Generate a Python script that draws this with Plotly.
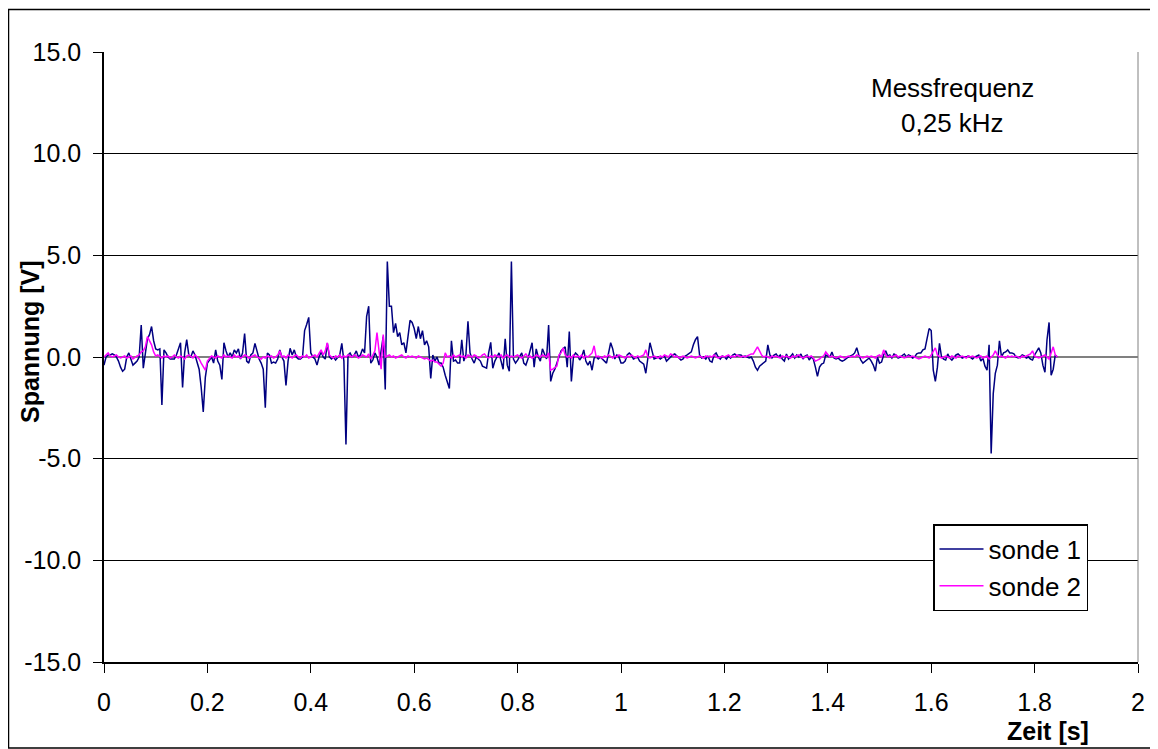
import plotly.graph_objects as go

SAMPLE_STEP = 0.004  # 0,25 kHz

sonde1 = [
    -0.4, 0.0, 0.1, 0.1, 0.15, 0.1, 0.0, -0.2, -0.5, -0.7,
    -0.6, 0.0, 0.2, -0.1, -0.4, -0.3, -0.2, 0.0, 1.57, -0.55,
    0.3, 0.9, 1.1, 1.5, 0.8, 0.4, 0.35, 0.4, -2.36, 0.35,
    0.2, 0.0, -0.1, -0.1, -0.1, 0.1, 0.4, 0.7, -1.5, 0.2,
    0.85, 0.1, 0.0, 0.3, 0.1, -0.2, -0.6, -1.5, -2.7, -1.0,
    -0.3, -0.15, 0.0, -0.3, 0.35, -0.2, -0.4, -1.1, 0.7, 0.3,
    0.0, 0.2, 0.0, 0.35, 0.2, 0.4, -0.1, 0.2, 1.15, -0.2,
    -0.3, 0.1, 0.2, 0.67, 0.3, -0.1, -0.3, -0.6, -2.5, 0.2,
    0.1, -0.3, -0.25, -0.3, -0.1, 0.35, 0.0, -0.2, -1.4, -0.2,
    0.43, 0.1, 0.35, 0.0, -0.1, -0.1, 0.0, 1.3, 1.6, 1.95,
    0.2, 0.0, -0.1, -0.4, 0.0, 0.25, 0.0, -0.1, 0.67, 0.0,
    -0.1, 0.0, -0.15, 0.0, 0.1, 0.67, -0.2, -4.3, 0.1, 0.2,
    0.0, 0.1, 0.3, 0.0, 0.1, 0.4, 0.2, 2.0, 2.5, -0.3,
    -0.15, 0.2, 0.0, -0.4, 0.2, 1.0, -1.6, 4.7, 2.5, 2.5,
    1.2, 1.65, 1.0, 1.2, 0.6, 0.7, 0.2, 1.1, 1.8, 1.7,
    1.4, 0.9, 1.5, 0.9, 1.3, 0.6, 0.8, 0.5, -1.05, 0.1,
    -0.2, 0.0, -0.3, -0.3, -0.5, -0.9, -1.2, -1.55, 0.8, -0.2,
    -0.15, -0.3, -0.3, 0.85, -0.2, 0.1, 1.75, 0.2, -0.1, -0.3,
    0.0, -0.1, -0.2, -0.45, -0.5, -0.55, 0.2, 0.72, -0.55, -0.2,
    0.0, 0.2, -0.2, -0.6, 0.9, -0.4, -0.7, 4.7, -0.1, -0.3,
    -0.15, 0.0, 0.2, -0.3, -0.4, -0.1, 0.3, 0.7, -0.5, 0.4,
    0.0, -0.2, 0.4, 0.1, -0.1, 1.57, -1.2, -0.8, -0.6, -0.3,
    0.0, 0.3, 0.4, 0.5, -0.5, 1.25, -1.2, 0.0, 0.2, 0.1,
    -0.15, 0.0, 0.35, -0.2, -0.4, -0.2, -0.65, -0.05, 0.0, -0.1,
    0.0, -0.1, -0.15, -0.3, 0.2, 0.7, 0.4, -0.1, 0.1, 0.0,
    -0.3, -0.3, -0.2, 0.1, 0.2, 0.1, -0.1, -0.05, 0.0, -0.2,
    -0.3, -0.35, -0.8, 0.1, 0.7, 0.3, -0.1, -0.05, 0.0, -0.1,
    0.0, 0.05, -0.2, -0.1, 0.0, 0.1, 0.15, 0.05, -0.1, -0.15,
    -0.1, 0.05, 0.1, 0.2, 0.25, 0.6, 0.85, 1.0, 0.1, -0.05,
    0.0, -0.1, 0.05, -0.2, -0.25, 0.1, 0.2, 0.0, -0.1, 0.05,
    0.0, -0.1, 0.05, -0.05, 0.1, 0.15, 0.05, 0.1, 0.1, 0.0,
    0.05, 0.0, -0.05, 0.0, -0.2, -0.5, -0.65, -0.45, -0.35, -0.25,
    -0.2, 0.6, 0.1, -0.05, 0.1, 0.15, 0.0, 0.1, -0.1, -0.2,
    0.15, -0.1, 0.0, 0.15, -0.05, 0.1, 0.0, 0.15, -0.1, 0.05,
    0.1, -0.15, 0.0, -0.1, -0.5, -0.95, -0.5, -0.35, -0.3, 0.1,
    0.05, 0.0, 0.25, -0.05, -0.1, -0.05, -0.15, -0.2, -0.15, -0.05,
    0.0, 0.05, 0.1, 0.2, 0.46, 0.1, -0.15, -0.3, -0.2, -0.1,
    -0.05, -0.2, -0.4, -0.7, 0.0, -0.3, -0.25, 0.1, 0.3, 0.05,
    0.1, -0.05, 0.15, 0.1, -0.05, 0.0, 0.1, 0.15, 0.0, 0.1,
    0.05, -0.05, 0.0, 0.15, 0.2, 0.2, 0.35, 0.4, 0.9, 1.4,
    1.3, -0.65, -1.2, -0.5, 0.67, 0.0, -0.1, -0.15, 0.15, -0.05,
    -0.15, 0.0, 0.1, 0.15, 0.05, -0.05, 0.0, 0.0, 0.05, -0.05,
    -0.1, 0.0, 0.05, 0.1, -0.2, -0.05, -0.45, -0.65, 0.6, -4.74,
    -1.8, -0.8, -0.4, 0.8, 0.0, 0.2, 0.25, 0.35, 0.2, 0.2,
    0.15, 0.0, -0.05, 0.0, 0.1, 0.05, -0.05, 0.0, -0.1, -0.15,
    0.1, 0.25, 0.45, 0.2, -0.4, -0.75, 0.85, 1.7, -0.9, -0.6,
    0.1, 0.0,
]

sonde2 = [
    0.0, 0.1, 0.2, 0.05, 0.0, 0.05, 0.1, 0.0, -0.05, 0.0,
    0.05, -0.05, 0.0, 0.05, -0.1, 0.0, 0.05, 0.1, 0.25, 0.3,
    0.5, 1.0, 0.8, 0.6, 0.25, 0.05, 0.1, 0.0, -0.05, 0.05,
    0.0, 0.05, -0.05, 0.0, 0.1, 0.0, -0.05, 0.05, 0.0, -0.1,
    0.05, 0.1, 0.0, -0.05, 0.1, 0.0, -0.1, -0.3, -0.45, -0.65,
    -0.2, -0.1, 0.05, 0.0, -0.05, 0.05, 0.0, -0.05, 0.1, 0.0,
    0.05, 0.0, -0.05, 0.1, 0.0, 0.05, -0.05, 0.0, 0.1, 0.05,
    -0.05, 0.0, 0.05, 0.1, 0.0, -0.05, -0.1, 0.0, -0.05, 0.05,
    0.0, 0.05, -0.05, 0.0, 0.1, 0.3, 0.0, 0.05, -0.05, 0.1,
    0.0, -0.05, 0.05, 0.1, 0.0, -0.05, 0.05, 0.0, 0.1, -0.05,
    0.0, 0.05, 0.1, 0.0, 0.2, 0.35, 0.1, 0.3, 0.7, 0.1,
    0.0, -0.05, 0.05, 0.0, 0.1, -0.05, 0.05, 0.0, 0.1, 0.05,
    0.0, 0.1, 0.05, -0.05, 0.0, 0.1, 0.05, 0.0, 0.15, -0.1,
    0.1, 0.3, 1.2, 0.2, -0.6, 1.1, 0.0, 0.05, 0.1, 0.0,
    0.05, -0.05, 0.0, 0.05, 0.1, 0.0, -0.05, 0.05, 0.0, 0.05,
    0.0, -0.05, 0.05, 0.0, -0.05, -0.1, -0.05, -0.15, -0.2, -0.15,
    -0.25, -0.25, -0.35, -0.45, -0.3, 0.2, 0.0, 0.05, -0.05, 0.1,
    0.0, 0.05, 0.1, 0.0, 0.05, -0.05, 0.1, 0.05, 0.0, 0.1,
    0.05, -0.05, 0.0, 0.1, 0.15, 0.0, -0.05, 0.05, 0.0, 0.1,
    0.05, 0.0, 0.1, -0.05, 0.05, 0.1, 0.0, 0.05, 0.0, 0.05,
    0.1, 0.0, -0.05, 0.05, 0.15, 0.0, 0.05, -0.05, 0.0, 0.1,
    0.05, 0.0, 0.1, 0.05, 0.0, 0.2, -0.65, -0.6, -0.5, -0.45,
    0.1, 0.2, 0.45, 0.1, 0.0, 0.05, -0.05, 0.1, 0.0, 0.05,
    0.0, 0.1, -0.05, 0.05, 0.0, 0.1, 0.2, 0.55, 0.0, 0.05,
    0.0, -0.05, 0.05, 0.0, 0.1, 0.0, -0.05, 0.05, 0.0, 0.1,
    0.05, 0.0, -0.05, 0.05, 0.0, 0.1, 0.0, -0.05, 0.05, 0.0,
    0.05, 0.1, 0.35, 0.0, -0.05, 0.0, 0.05, 0.0, -0.05, 0.05,
    0.0, 0.1, 0.05, 0.0, 0.15, 0.1, 0.0, 0.05, -0.05, 0.0,
    0.05, 0.0, -0.05, 0.0, 0.05, 0.0, -0.05, 0.0, 0.05, 0.0,
    -0.05, 0.05, 0.0, 0.05, 0.0, 0.1, 0.0, -0.05, 0.0, 0.05,
    0.0, 0.05, 0.1, 0.0, 0.05, 0.0, 0.1, 0.05, 0.0, 0.05,
    0.0, 0.05, 0.1, 0.15, 0.15, 0.35, 0.5, 0.3, 0.1, 0.0,
    0.05, 0.0, -0.05, 0.05, 0.0, 0.05, 0.0, -0.05, 0.05, 0.0,
    0.05, 0.0, -0.05, 0.05, 0.0, 0.05, 0.1, 0.0, -0.05, 0.0,
    0.05, 0.0, 0.05, -0.05, -0.2, -0.15, -0.1, 0.0, 0.05, 0.25,
    0.1, 0.0, 0.05, 0.0, -0.05, 0.0, 0.05, 0.0, -0.05, 0.0,
    0.05, 0.0, 0.05, 0.0, 0.1, 0.05, 0.0, -0.05, 0.0, 0.05,
    0.0, 0.05, 0.0, -0.05, 0.05, 0.1, 0.0, 0.35, 0.1, 0.0,
    0.05, 0.0, 0.05, 0.1, 0.0, 0.05, 0.0, -0.05, 0.0, 0.05,
    0.0, 0.05, 0.0, -0.05, -0.1, -0.05, 0.0, 0.05, 0.0, -0.05,
    0.1, 0.3, 0.45, 0.1, 0.0, -0.05, 0.0, 0.05, 0.0, -0.05,
    0.05, 0.0, -0.05, 0.05, 0.0, 0.05, 0.0, -0.05, 0.05, 0.0,
    0.05, 0.0, -0.05, 0.0, 0.05, -0.05, 0.0, 0.05, -0.1, 0.0,
    0.1, 0.3, 0.1, 0.0, 0.05, 0.0, -0.05, 0.05, 0.0, 0.05,
    0.0, 0.05, 0.0, -0.05, 0.05, 0.0, 0.05, 0.1, 0.15, 0.3,
    0.05, 0.0, -0.05, 0.0, 0.05, 0.1, 0.0, -0.1, 0.2, 0.5,
    0.1, 0.0,
]

time1 = [round(i * SAMPLE_STEP, 3) for i in range(len(sonde1))]
time2 = [round(i * SAMPLE_STEP, 3) for i in range(len(sonde2))]

y_tickvals = [-15, -10, -5, 0, 5, 10, 15]
y_ticktext = ["-15.0", "-10.0", "-5.0", "0.0", "5.0", "10.0", "15.0"]
x_tickvals = [0, 0.2, 0.4, 0.6, 0.8, 1.0, 1.2, 1.4, 1.6, 1.8, 2.0]
x_ticktext = ["0", "0.2", "0.4", "0.6", "0.8", "1", "1.2", "1.4", "1.6", "1.8", "2"]

FONT = "Liberation Sans, Arial, sans-serif"
FS_TICK = 25
FS_TEXT = 26

# page body has an 8px margin; figure is sized so it fills the window
OFF = 8
W, H = 1150, 741
L, R, T, B = 96, 20, 44, 87
PW, PH = W - L - R, H - T - B


def px(xpage):
    return (xpage - OFF - L) / PW


def py(ypage):
    return (H - B - (ypage - OFF)) / PH


fig = go.Figure()
fig.add_trace(go.Scatter(x=time1, y=sonde1, mode="lines", name="sonde 1",
                         line=dict(color="#000080", width=1.5)))
fig.add_trace(go.Scatter(x=time2, y=sonde2, mode="lines", name="sonde 2",
                         line=dict(color="#FF00FF", width=1.5)))

fig.update_layout(
    width=W, height=H,
    margin=dict(l=L, r=R, t=T, b=B, pad=0),
    paper_bgcolor="white", plot_bgcolor="white",
    font=dict(family=FONT, size=FS_TICK, color="black"),
    showlegend=True,
    legend=dict(x=px(933), y=py(524), xanchor="left", yanchor="top",
                bgcolor="white", bordercolor="black", borderwidth=1.5,
                itemwidth=44, tracegroupgap=0,
                font=dict(family=FONT, size=FS_TEXT, color="black")),
    xaxis=dict(range=[0, 2], tickvals=x_tickvals, ticktext=x_ticktext,
               showgrid=False, zeroline=False, showline=True, linecolor="black",
               linewidth=1.5, ticks="outside", ticklen=9, tickcolor="black",
               tickwidth=1, ticklabelstandoff=8),
    yaxis=dict(range=[-15, 15], tickvals=y_tickvals, ticktext=y_ticktext,
               showgrid=True, gridcolor="black", gridwidth=1,
               zeroline=True, zerolinecolor="#808080", zerolinewidth=2,
               showline=True, linecolor="black", linewidth=1.5,
               ticks="outside", ticklen=9, tickcolor="black", tickwidth=1,
               ticklabelstandoff=7),
    shapes=[
        dict(type="line", xref="paper", yref="paper", x0=1, x1=1, y0=0, y1=1,
             line=dict(color="#808080", width=1)),
        dict(type="rect", xref="paper", yref="paper",
             x0=px(8.5), x1=px(1156.5), y0=py(748), y1=py(9.5),
             line=dict(color="black", width=1.5), layer="below"),
    ],
    annotations=[
        dict(text="Messfrequenz", xref="paper", yref="paper", x=px(952), y=py(88),
             xanchor="center", yanchor="middle", showarrow=False,
             font=dict(family=FONT, size=FS_TEXT, color="black")),
        dict(text="0,25 kHz", xref="paper", yref="paper", x=px(952), y=py(123),
             xanchor="center", yanchor="middle", showarrow=False,
             font=dict(family=FONT, size=FS_TEXT, color="black")),
        dict(text="<b>Zeit [s]</b>", xref="paper", yref="paper", x=px(1091), y=py(731),
             xanchor="right", yanchor="middle", showarrow=False,
             font=dict(family=FONT, size=FS_TICK, color="black")),
        dict(text="<b>Spannung [V]</b>", xref="paper", yref="paper", x=px(30), y=py(342),
             xanchor="center", yanchor="middle", showarrow=False, textangle=-90,
             font=dict(family=FONT, size=FS_TICK, color="black")),
    ],
)

fig.write_html(
    "out.html",
    post_script="document.documentElement.style.overflow='hidden';"
                "document.body.style.overflow='hidden';",
)
